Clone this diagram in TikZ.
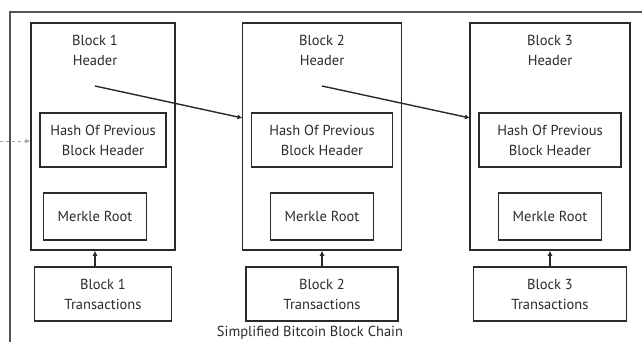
\documentclass[tikz,border=0pt]{standalone}
\usepackage{fontspec}
\setmainfont{PT Sans}
\usetikzlibrary{arrows.meta}
\definecolor{ink}{HTML}{2A2A2A}
\definecolor{frame}{HTML}{555555}
\tikzset{
  box/.style={draw=ink, line width=1.5pt, rectangle, inner sep=0pt,
    align=center, text=ink, font=\fontsize{14.5}{20}\selectfont},
  link/.style={draw=ink, line width=1.4pt, -{Latex[length=5pt,width=5pt]}},
  prevlink/.style={draw=gray!70, line width=1pt, dashed, -{Latex[length=5pt,width=5pt]}}
}
\begin{document}
\begin{tikzpicture}[x=1pt, y=-1pt]
  \useasboundingbox (0,0) rectangle (642,342);
  \draw[frame, line width=2pt] (10,342) -- (10,12) -- (642,12);
  \foreach \i/\x/\w/\m in {1/103/144/95, 2/322/159/322, 3/550/160/550} {
    \node[box, minimum width=\w, minimum height=227] (hdr\i) at (\x,136.5) {};
    \node[box, draw=none] (ttl\i) at (\m,50) {Block \i\\Header};
    \node[box, minimum width=\w-18, minimum height=54] (hash\i) at (\x,140) {Hash Of Previous\\Block Header};
    \node[box, minimum width=103, minimum height=47] (mr\i) at (\m,216.5) {Merkle Root};
    \node[box, minimum width=\w-7, minimum height=54] (tx\i) at (\x,294) {Block \i\\Transactions};
    \coordinate (out\i) at (\m,86);
    \coordinate (in\i) at (\x-\w/2,118);
    \draw[link] (tx\i.north -| mr\i) -- (hdr\i.south -| mr\i);
  }
  \coordinate (prev) at (0,141);
  \draw[prevlink] (prev) -- (hdr1.west |- prev);
  \draw[link] (out1) -- (in2);
  \draw[link] (out2) -- (in3);
  \node[text=ink, font=\fontsize{14.5}{16}\selectfont] (cap) at (310,333) {Simplified Bitcoin Block Chain};
\end{tikzpicture}
\end{document}
